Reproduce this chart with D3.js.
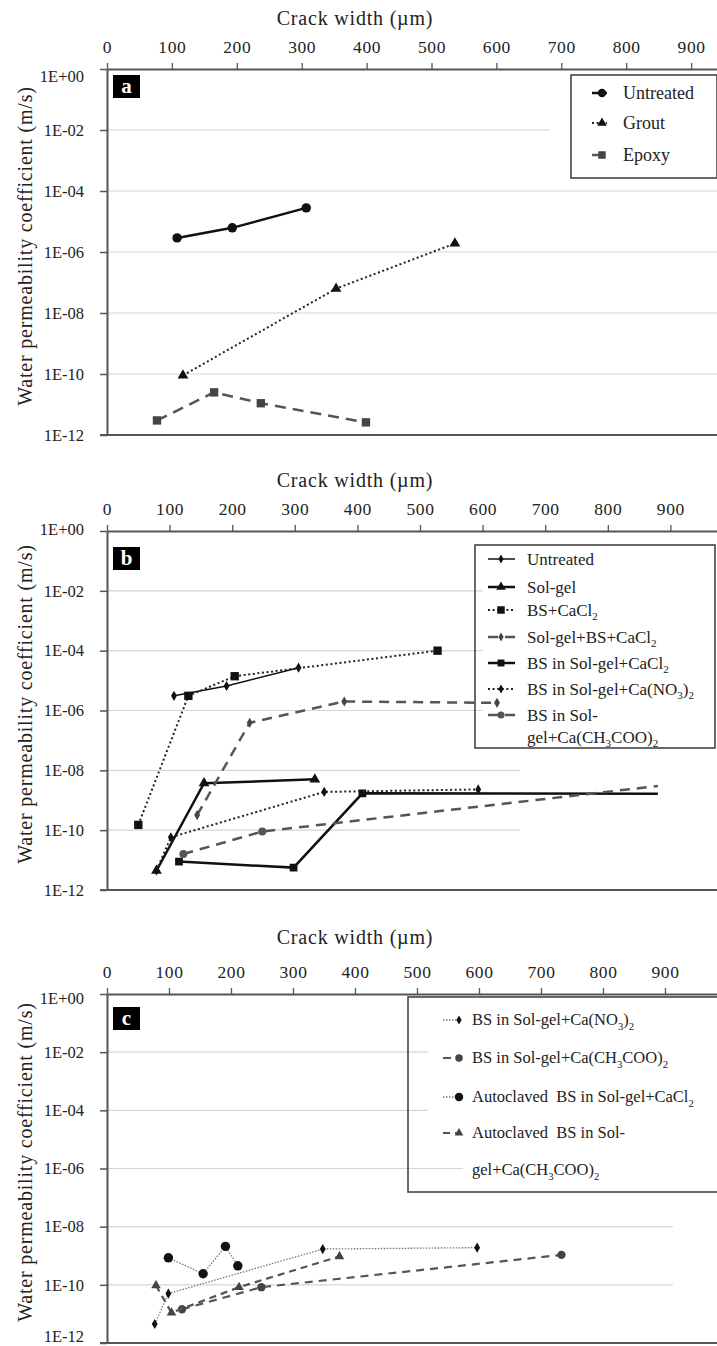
<!DOCTYPE html>
<html><head><meta charset="utf-8">
<script src="https://cdn.jsdelivr.net/npm/d3@7/dist/d3.min.js"></script>
<style>
html,body{margin:0;padding:0;background:#fff;}
svg{display:block;}
svg text{font-family:"Liberation Serif","Times New Roman",Tinos,"DejaVu Serif",serif !important;}
</style></head><body>
<svg id="chart" width="717" height="1346"></svg>
<script>
// ================= DATA =================
const xTickValues = [0,100,200,300,400,500,600,700,800,900];
const yTickValues = [1,1e-2,1e-4,1e-6,1e-8,1e-10,1e-12];
const yTickLabels = ["1E+00","1E-02","1E-04","1E-06","1E-08","1E-10","1E-12"];
const xAxisTitle = "Crack width (\u00b5m)";
const yAxisTitle = "Water permeability coefficient (m/s)";
const panelLetters = ["a","b","c"];

// panel a  [crack width (µm), permeability (m/s)]
const aNames = ["Untreated","Grout","Epoxy"];
const aUntreated = [[108,2.9e-6],[193,6.2e-6],[307,2.8e-5]];
const aGrout     = [[117,9e-11],[353,6.3e-8],[536,1.9e-6]];
const aEpoxy     = [[77,3e-12],[165,2.5e-11],[237,1.1e-11],[399,2.6e-12]];

// panel b
const bNames = ["Untreated","Sol-gel","BS+CaCl_2","Sol-gel+BS+CaCl_2","BS in Sol-gel+CaCl_2",
                "BS in Sol-gel+Ca(NO_3)_2","BS in Sol-\ngel+Ca(CH_3COO)_2"];
const bUntreated   = [[107,3.1e-6],[191,6.6e-6],[306,2.7e-5]];
const bSolgel      = [[79,4.4e-12],[155,3.7e-9],[332,5e-9]];
const bBSCaCl2     = [[50,1.5e-10],[130,3.1e-6],[204,1.4e-5],[528,1e-4]];
const bSolgelBSCaCl2 = [[144,3.2e-10],[228,3.9e-7],[379,2e-6],[623,1.8e-6]];
const bBSinSolgelCaCl2 = [[115,8.9e-12],[298,5.6e-12],[408,1.7e-9],[880,1.65e-9]];
const bBSinSolgelNO3   = [[79,4.5e-12],[102,5.8e-11],[347,1.9e-9],[593,2.3e-9]];
const bBSinSolgelAc    = [[122,1.6e-11],[248,9e-11],[880,3e-9]];

// panel c
const cNames = ["BS in Sol-gel+Ca(NO_3)_2","BS in Sol-gel+Ca(CH_3COO)_2",
                "Autoclaved  BS in Sol-gel+CaCl_2","Autoclaved  BS in Sol-\ngel+Ca(CH_3COO)_2"];
const cBSinSolgelNO3 = [[77,4.5e-12],[99,5e-11],[348,1.7e-9],[597,1.9e-9]];
const cBSinSolgelAc  = [[121,1.45e-11],[249,8.3e-11],[733,1.07e-9]];
const cAutoCaCl2     = [[99,8.5e-10],[155,2.4e-10],[191,2.1e-9],[211,4.5e-10]];
const cAutoAc        = [[79,9.5e-11],[104,1.1e-11],[213,8.3e-11],[375,9.5e-10]];

// ================= LAYOUT / STYLE =================
const FONT = '"Liberation Serif","Times New Roman",Tinos,"DejaVu Serif",serif';
const svg = d3.select("#chart");
const AX = "#555";
const S = {
  circle:d3.symbolCircle, tri:d3.symbolTriangle, sq:d3.symbolSquare, dia:d3.symbolDiamond
};
const panels = [
  { top:69, bottom:435, xk:0.649, titleOff:51, letterTop:75, yTitleC:246, topDy:"0.75em", botDy:"0.32em",
    legend:{x:571,y:75,w:146,h:103,sx:[592,607],mx:602,tx:623,rows:[93,123,155],fs:18,lh:22},
    gridEnd:{"-2":550},
    names:aNames,
    series:[aUntreated,aGrout,aEpoxy],
    styles:[
      {c:"#111",w:2.5,dash:null,sym:"circle",size:70,fill:"#111"},
      {c:"#222",w:2,dash:"2,2.6",sym:"tri",size:50,fill:"#111"},
      {c:"#555",w:2.5,dash:"11,7",sym:"sq",size:70,fill:"#444"}
    ]},
  { top:531, bottom:890, xk:0.626, titleOff:51, letterTop:547, yTitleC:704, topDy:"0.2em", botDy:"0.32em",
    legend:{x:475,y:545,w:240,h:203,sx:[488,515],mx:501,tx:527,rows:[559,587,610,637,663,689,715],fs:17,lh:22},
    gridEnd:{"-2":483,"-4":483,"-6":483,"-8":520,"-10":520},
    names:bNames,
    series:[bUntreated,bSolgel,bBSCaCl2,bSolgelBSCaCl2,bBSinSolgelCaCl2,bBSinSolgelNO3,bBSinSolgelAc],
    styles:[
      {c:"#111",w:1.5,dash:null,sym:"dia",size:30,fill:"#111"},
      {c:"#111",w:2.5,dash:null,sym:"tri",size:50,fill:"#111"},
      {c:"#222",w:2,dash:"2,2.6",sym:"sq",size:70,fill:"#111"},
      {c:"#555",w:2.5,dash:"10,7",sym:"dia",size:30,fill:"#444"},
      {c:"#111",w:2.5,dash:null,sym:"sq",size:60,fill:"#111",skipLast:1},
      {c:"#222",w:2,dash:"2,2.6",sym:"dia",size:30,fill:"#111"},
      {c:"#555",w:2.5,dash:"10,7",sym:"circle",size:50,fill:"#555",skipLast:1}
    ]},
  { top:994, bottom:1343, xk:0.62, titleOff:57, letterTop:1007, yTitleC:1162, topDy:"0.6em", botDy:"-0.12em",
    legend:{x:408,y:997,w:320,h:195,sx:[443,459],mx:459,tx:472,rows:[1020,1058,1097,1133],fs:16.5,lh:37},
    gridEnd:{"-2":428,"-4":428,"-6":463,"-8":673,"-10":673},
    names:cNames,
    series:[cBSinSolgelNO3,cBSinSolgelAc,cAutoCaCl2,cAutoAc],
    styles:[
      {c:"#777",w:1.3,dash:"1.5,1.5",sym:"dia",size:30,fill:"#111"},
      {c:"#555",w:2.2,dash:"8,6",sym:"circle",size:55,fill:"#444"},
      {c:"#777",w:1.3,dash:"1.5,1.5",sym:"circle",size:70,fill:"#111"},
      {c:"#555",w:2.2,dash:"7,5",sym:"tri",size:40,fill:"#444"}
    ]}
];

function rich(textSel, str, fs){
  const parts = str.split(/(_\d)/).filter(p=>p.length);
  let wasSub = false;
  parts.forEach(p=>{
    const t = textSel.append("tspan");
    if(p[0]==="_"){
      t.text(p.slice(1)).attr("font-size",fs*0.65).attr("dy",fs*0.25);
      wasSub = true;
    } else {
      t.text(p);
      if(wasSub){ t.attr("dy",-fs*0.25); wasSub=false; }
    }
  });
}

panels.forEach((P,pi)=>{
  const g = svg.append("g").attr("font-family",FONT);
  const x = d3.scaleLinear().domain([0,1000]).range([107,107+1000*P.xk]);
  const y = d3.scaleLog().domain([1,1e-12]).range([P.top,P.bottom]);

  // gridlines
  yTickValues.slice(1,-1).forEach(v=>{
    const e = String(Math.round(Math.log10(v)));
    g.append("line").attr("x1",107).attr("x2",P.gridEnd[e]||717)
      .attr("y1",y(v)).attr("y2",y(v)).attr("stroke","#d6d6d6").attr("stroke-width",1.2);
  });

  // axes
  const xa = g.append("g").attr("transform",`translate(0,${P.top})`)
    .call(d3.axisTop(x).tickValues(xTickValues).tickSize(6).tickPadding(10).tickSizeOuter(0).tickFormat(d3.format("d")));
  xa.attr("font-family",FONT);
  xa.selectAll("text").attr("font-size",17.5).attr("fill","#222").style("letter-spacing","0.6px");
  xa.selectAll("line").attr("stroke",AX).attr("stroke-width",1.3);
  xa.select(".domain").attr("stroke",AX).attr("stroke-width",2);

  const ya = g.append("g").attr("transform","translate(107,0)")
    .call(d3.axisLeft(y).tickValues(yTickValues).tickSize(7).tickPadding(16).tickSizeOuter(0)
      .tickFormat((d,i)=>yTickLabels[i]));
  ya.attr("font-family",FONT);
  ya.selectAll("text").attr("font-size",16.5).attr("fill","#222");
  ya.selectAll("line").attr("stroke",AX).attr("stroke-width",1.5);
  ya.select(".domain").attr("stroke",AX).attr("stroke-width",2);
  ya.selectAll(".tick").filter((d,i)=>i===0).select("text").attr("dy",P.topDy);
  ya.selectAll(".tick").filter((d,i)=>i===yTickValues.length-1).select("text").attr("dy",P.botDy);

  // bottom axis line (1E-12)
  g.append("line").attr("x1",100).attr("x2",717).attr("y1",y(1e-12)).attr("y2",y(1e-12))
    .attr("stroke",AX).attr("stroke-width",2);

  // titles
  g.append("text").attr("x",355).attr("y",P.top-P.titleOff+7).attr("text-anchor","middle")
    .attr("font-size",20).attr("fill","#222").style("letter-spacing","0.8px").text(xAxisTitle);
  g.append("text").attr("transform",`translate(32,${P.yTitleC}) rotate(-90)`).attr("text-anchor","middle")
    .attr("font-size",20).attr("fill","#222").style("letter-spacing","0.8px").text(yAxisTitle);

  // legend box
  const L = P.legend;
  g.append("rect").attr("x",L.x).attr("y",L.y).attr("width",L.w).attr("height",L.h)
    .attr("fill","none").attr("stroke","#444").attr("stroke-width",1.6);

  // series
  const line = d3.line().x(d=>x(d[0])).y(d=>y(d[1]));
  P.series.forEach((data,si)=>{
    const st = P.styles[si];
    g.append("path").datum(data).attr("d",line).attr("fill","none")
      .attr("stroke",st.c).attr("stroke-width",st.w).attr("stroke-dasharray",st.dash);
    const pts = st.skipLast ? data.slice(0,data.length-st.skipLast) : data;
    g.selectAll(null).data(pts).join("path")
      .attr("transform",d=>`translate(${x(d[0])},${y(d[1])})`)
      .attr("d",d3.symbol().type(S[st.sym]).size(st.size)).attr("fill",st.fill);
  });

  // legend entries
  P.names.forEach((nm,si)=>{
    const st = P.styles[si], yy = L.rows[si];
    g.append("line").attr("x1",L.sx[0]).attr("x2",L.sx[1]).attr("y1",yy).attr("y2",yy)
      .attr("stroke",st.c).attr("stroke-width",st.w).attr("stroke-dasharray",st.dash);
    g.append("path").attr("transform",`translate(${L.mx},${yy})`)
      .attr("d",d3.symbol().type(S[st.sym]).size(st.size*0.8)).attr("fill",st.fill);
    nm.split("\n").forEach((ln,li)=>{
      const t = g.append("text").attr("x",L.tx).attr("y",yy+L.fs*0.33+li*L.lh)
        .attr("font-size",L.fs).attr("fill","#222").style("white-space","pre");
      rich(t, ln, L.fs);
    });
  });

  // panel letter
  g.append("rect").attr("x",113).attr("y",P.letterTop).attr("width",27).attr("height",23).attr("fill","#000");
  g.append("text").attr("x",126.5).attr("y",P.letterTop+17.5).attr("text-anchor","middle")
    .attr("font-size",21).attr("font-weight","bold").attr("fill","#fff").text(panelLetters[pi]);
});
</script></body></html>
